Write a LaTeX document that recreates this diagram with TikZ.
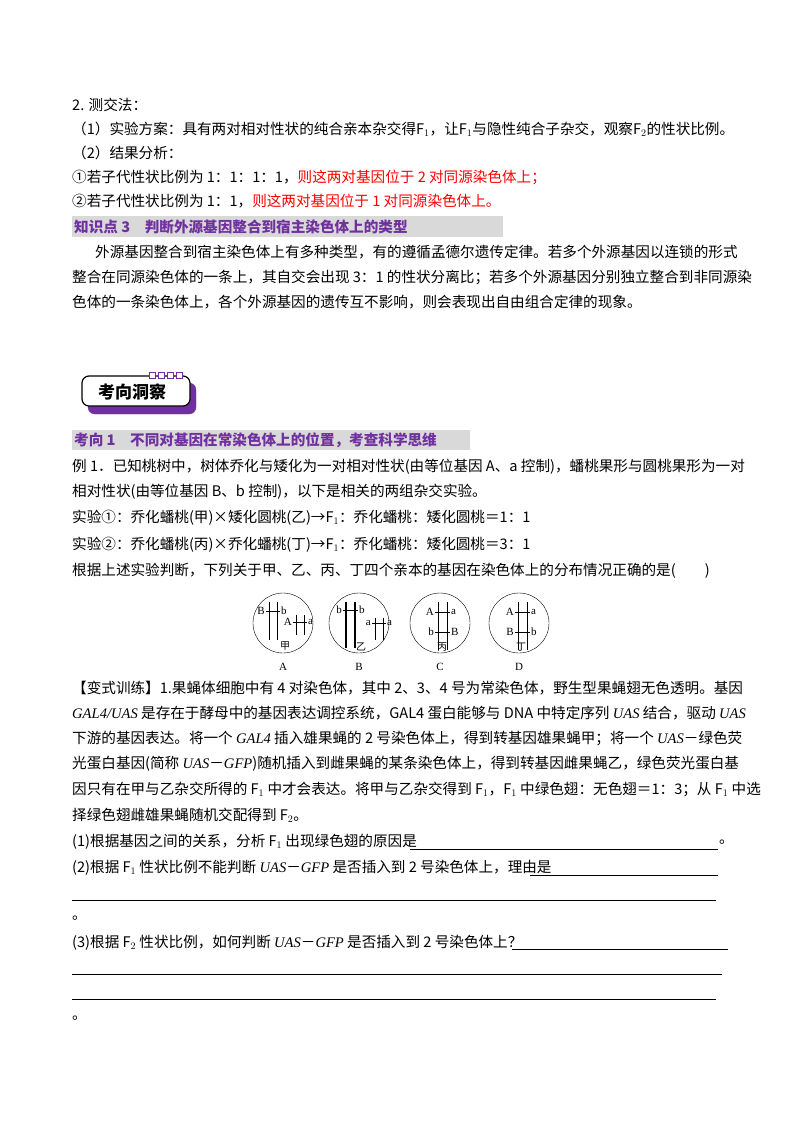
\documentclass[tikz,border=0pt]{standalone}
\usepackage{fontspec}
\setmainfont{Noto Sans CJK SC}
\newfontfamily\latin{Liberation Serif}
\usetikzlibrary{positioning}
\definecolor{headpurple}{HTML}{7030A0}
\definecolor{headgray}{HTML}{D9D9D9}
\definecolor{ansred}{HTML}{FF0000}
\newcommand{\ital}[1]{{\latin\itshape #1}}
\newcommand{\sub}[1]{$_{#1}$}

\begin{document}
\begin{tikzpicture}[
    x=1pt, y=-1pt,
    line/.style={anchor=west, inner sep=0pt, font=\fontsize{14.6}{16}\selectfont},
    head/.style={line, font=\fontsize{14.6}{16}\selectfont\bfseries, text=headpurple},
    gene/.style={inner sep=0pt, font=\latin\fontsize{11}{12}\selectfont},
    chrom/.style={line width=0.8pt},
    blank/.style={line width=0.5pt},
  ]
    \useasboundingbox (0,0) rectangle (800,1132);

    % --- Section 2 ---
    \node[line] (l1) at (72,105) {2. 测交法：};
    \node[line] (l2) at (72,129) {（1）实验方案：具有两对相对性状的纯合亲本杂交得F\sub1，让F\sub1与隐性纯合子杂交，观察F\sub2的性状比例。};
    \node[line] (l3) at (72,153) {（2）结果分析：};
    \node[line] (l4) at (72,177) {①若子代性状比例为 1：1：1：1，\textcolor{ansred}{则这两对基因位于 2 对同源染色体上；}};
    \node[line] (l5) at (72,201) {②若子代性状比例为 1：1，\textcolor{ansred}{则这两对基因位于 1 对同源染色体上。}};

    % --- Knowledge point 3 ---
    \fill[headgray] (72,216) rectangle (503,237);
    \node[head] (kp3) at (74,226.5) {知识点 3\quad 判断外源基因整合到宿主染色体上的类型};
    \node[line] (p1) at (95,252) {外源基因整合到宿主染色体上有多种类型，有的遵循孟德尔遗传定律。若多个外源基因以连锁的形式};
    \node[line] (p2) at (72,277) {整合在同源染色体的一条上，其自交会出现 3：1 的性状分离比；若多个外源基因分别独立整合到非同源染};
    \node[line] (p3) at (72,302) {色体的一条染色体上，各个外源基因的遗传互不影响，则会表现出自由组合定律的现象。};

    % --- Badge ---
    \draw[headpurple, fill=headpurple, rounded corners=7pt] (88,383) rectangle (196,414);
    \draw[line width=1.2pt, fill=white, rounded corners=7pt] (82,376) rectangle (190,406);
    \foreach \i in {0,...,3}
      \draw[headpurple, fill=white, line width=1pt] (149+\i*9,372) rectangle (155+\i*9,378);
    \node[inner sep=0pt, font=\fontsize{17}{18}\selectfont\bfseries] (badge) at (132,392) {考向洞察};

    % --- Direction 1 ---
    \fill[headgray] (72,430) rectangle (470,450);
    \node[head] (dir1) at (74,440) {考向 1\quad 不同对基因在常染色体上的位置，考查科学思维};
    \node[line] (e1) at (72,467) {例 1．已知桃树中，树体乔化与矮化为一对相对性状(由等位基因 A、a 控制)，蟠桃果形与圆桃果形为一对};
    \node[line] (e2) at (72,492) {相对性状(由等位基因 B、b 控制)，以下是相关的两组杂交实验。};
    \node[line] (e3) at (72,518) {实验①：乔化蟠桃(甲)×矮化圆桃(乙)→F\sub1：乔化蟠桃：矮化圆桃＝1：1};
    \node[line] (e4) at (72,545) {实验②：乔化蟠桃(丙)×乔化蟠桃(丁)→F\sub1：乔化蟠桃：矮化圆桃＝3：1};
    \node[line] (e5) at (72,571) {根据上述实验判断，下列关于甲、乙、丙、丁四个亲本的基因在染色体上的分布情况正确的是(\qquad)};

    % --- Cell A ---
    \draw (283,623) circle (30);
    \draw[chrom] (269,602) -- (269,640) (277,602) -- (277,640);
    \draw (266,611) -- (280,611);
    \node[gene, left=1pt of {(266,611)}] (aB) {B};
    \node[gene, right=1pt of {(280,611)}] (ab) {b};
    \draw[chrom] (296,615) -- (296,635) (304,615) -- (304,635);
    \draw (293,622) -- (307,622);
    \node[gene, left=1pt of {(293,622)}] (aA) {A};
    \node[gene, right=1pt of {(307,622)}] (aa) {a};
    \node[gene, font=\fontsize{10}{11}\selectfont] (jia) at (285,646) {甲};
    \node[gene] (labA) at (283,667) {A};

    % --- Cell B ---
    \draw (359,623) circle (30);
    \draw[chrom, line width=1.3pt] (346,602) -- (346,648) (355,602) -- (355,648);
    \draw (343,610) -- (358,610);
    \node[gene, left=1pt of {(343,610)}] (bb1) {b};
    \node[gene, right=1pt of {(358,610)}] (bb2) {b};
    \draw[chrom] (375,618) -- (375,640) (383,618) -- (383,640);
    \draw (372,623) -- (386,623);
    \node[gene, left=1pt of {(372,623)}] (ba1) {a};
    \node[gene, right=1pt of {(386,623)}] (ba2) {a};
    \node[gene, font=\fontsize{10}{11}\selectfont] (yi) at (361,647) {乙};
    \node[gene] (labB) at (359,667) {B};

    % --- Cell C ---
    \draw (440,623) circle (30);
    \draw[chrom] (438,602) -- (438,650) (447,602) -- (447,650);
    \draw (435,612) -- (450,612) (435,632) -- (450,632);
    \node[gene, left=1pt of {(435,612)}] (cA) {A};
    \node[gene, right=1pt of {(450,612)}] (ca) {a};
    \node[gene, left=1pt of {(435,632)}] (cb) {b};
    \node[gene, right=1pt of {(450,632)}] (cB) {B};
    \node[gene, font=\fontsize{10}{11}\selectfont] (bing) at (442,647) {丙};
    \node[gene] (labC) at (440,667) {C};

    % --- Cell D ---
    \draw (519,623) circle (30);
    \draw[chrom] (518,602) -- (518,650) (527,602) -- (527,650);
    \draw (515,612) -- (530,612) (515,632) -- (530,632);
    \node[gene, left=1pt of {(515,612)}] (dA) {A};
    \node[gene, right=1pt of {(530,612)}] (da) {a};
    \node[gene, left=1pt of {(515,632)}] (dB) {B};
    \node[gene, right=1pt of {(530,632)}] (db) {b};
    \node[gene, font=\fontsize{10}{11}\selectfont] (ding) at (521,647) {丁};
    \node[gene] (labD) at (519,667) {D};

    % --- Variant training ---
    \node[line] (v1) at (72,688) {【变式训练】1.果蝇体细胞中有 4 对染色体，其中 2、3、4 号为常染色体，野生型果蝇翅无色透明。基因};
    \node[line] (v2) at (72,713) {\ital{GAL4/UAS} 是存在于酵母中的基因表达调控系统，GAL4 蛋白能够与 DNA 中特定序列 \ital{UAS} 结合，驱动 \ital{UAS}};
    \node[line] (v3) at (72,739) {下游的基因表达。将一个 \ital{GAL4} 插入雄果蝇的 2 号染色体上，得到转基因雄果蝇甲；将一个 \ital{UAS}－绿色荧};
    \node[line] (v4) at (72,764) {光蛋白基因(简称 \ital{UAS}－\ital{GFP})随机插入到雌果蝇的某条染色体上，得到转基因雌果蝇乙，绿色荧光蛋白基};
    \node[line] (v5) at (72,789) {因只有在甲与乙杂交所得的 F\sub1 中才会表达。将甲与乙杂交得到 F\sub1，F\sub1 中绿色翅：无色翅＝1：3；从 F\sub1 中选};
    \node[line] (v6) at (72,815) {择绿色翅雌雄果蝇随机交配得到 F\sub2。};

    \node[line] (q1) at (72,842) {(1)根据基因之间的关系，分析 F\sub1 出现绿色翅的原因是};
    \draw[blank] (410,849) -- (718,849);
    \node[line] (q1e) at (719,842) {。};
    \node[line] (q2) at (72,868) {(2)根据 F\sub1 性状比例不能判断 \ital{UAS}－\ital{GFP} 是否插入到 2 号染色体上，理由是};
    \draw[blank] (530,875) -- (718,875);
    \draw[blank] (72,900) -- (716,900);
    \node[line] (q2e) at (72,918) {。};
    \node[line] (q3) at (72,943) {(3)根据 F\sub2 性状比例，如何判断 \ital{UAS}－\ital{GFP} 是否插入到 2 号染色体上？};
    \draw[blank] (512,949) -- (728,949);
    \draw[blank] (72,974) -- (722,974);
    \draw[blank] (72,999) -- (716,999);
    \node[line] (q3e) at (72,1018) {。};
\end{tikzpicture}
\end{document}
